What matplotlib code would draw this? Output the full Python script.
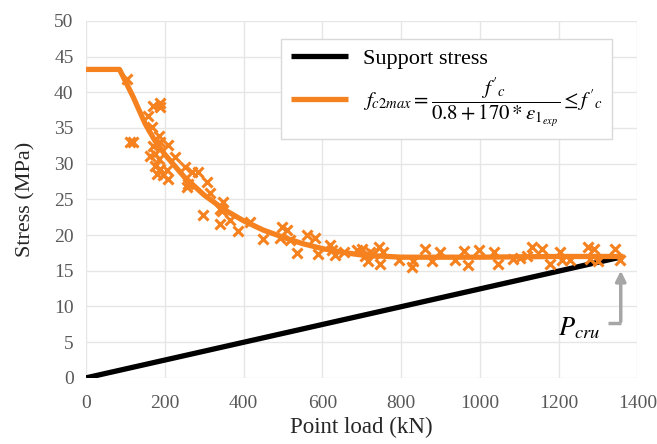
import matplotlib
matplotlib.use("Agg")
import matplotlib.pyplot as plt

plt.rcParams['font.family'] = ['Liberation Serif', 'DejaVu Serif']
plt.rcParams['mathtext.fontset'] = 'stix'

# support stress line (kN, MPa)
sup_load = [0, 1365]
sup_stress = [0, 17.0]

# f_c2max curve
crv_load = [0, 85, 120, 150, 175, 200, 250, 300, 350, 400, 450, 500, 550,
            600, 650, 700, 800, 1000, 1200, 1365]
crv_stress = [43.2, 43.2, 39.3, 35.6, 33.2, 31.3, 28.1, 25.6, 23.6, 22.0,
              20.7, 19.7, 18.8, 18.1, 17.6, 17.2, 16.9, 16.9, 17.0, 17.0]

# experimental points
exp_load = [103, 112, 120, 158, 171, 188, 188, 167, 184, 171, 188, 209, 163, 175,
            184, 226, 175, 188, 180, 196, 209, 205, 251, 268, 285, 260, 306,
            256, 315, 349, 340, 344, 298, 340, 366, 387, 417, 450, 497, 510,
            493, 518, 535, 560, 582, 590, 620, 624, 633, 654, 688, 700, 709,
            717, 730, 743, 747, 755, 722, 794, 827, 831, 861, 878, 899, 938,
            959, 971, 997, 1035, 1047, 1085, 1103, 1120, 1132, 1158, 1179,
            1204, 1209, 1230, 1276, 1289, 1280, 1301, 1344, 1357]
exp_stress = [41.8, 33.1, 33.1, 36.7, 38.1, 38.5, 37.9, 35.1, 33.9, 32.5, 33.0,
              32.6, 31.1, 31.4, 30.7, 31.0, 29.7, 29.3, 28.6, 28.4, 27.9, 29.1,
              29.5, 28.9, 28.9, 27.2, 27.5, 26.7, 25.9, 24.6, 23.7, 23.3, 22.8,
              21.6, 22.1, 20.5, 21.8, 19.4, 21.1, 20.7, 19.6, 19.3, 17.5, 20.0,
              19.6, 17.4, 18.6, 17.9, 17.2, 17.6, 17.9, 18.1, 17.0, 16.3, 17.4,
              18.3, 16.0, 17.6, 17.6, 16.5, 15.5, 16.3, 18.1, 16.3, 17.6, 16.5,
              17.7, 15.8, 17.9, 17.6, 16.0, 16.7, 16.8, 17.0, 18.3, 18.1, 16.0,
              17.6, 16.5, 16.5, 18.3, 18.0, 16.7, 16.3, 18.1, 16.5]

orng = '#F5811F'

fig = plt.figure(figsize=(6.57, 4.44), dpi=100)
ax = fig.add_axes([0.131, 0.149, 0.839, 0.804])

ax.plot(sup_load, sup_stress, color='black', lw=3.8, solid_capstyle='butt',
        label='Support stress', zorder=3)
ax.plot(crv_load, crv_stress, color=orng, lw=3.8, solid_capstyle='butt',
        label=r"$f_{c2max} = \dfrac{f^{\prime}{}_{c}}{0.8 + 170 * \varepsilon_{1_{exp}}} \leq f^{\prime}{}_{c}$",
        zorder=4)
ax.plot(exp_load, exp_stress, ls='none', marker='x', ms=6.5, mew=2.2,
        color=orng, zorder=5)

# P_cru annotation
ax.plot([1325, 1358], [7.7, 7.7], color='#A6A6A6', lw=2.5, solid_capstyle='butt')
ax.annotate('', xy=(1358, 15.4), xytext=(1358, 7.5),
            arrowprops=dict(arrowstyle='-|>,head_width=0.3,head_length=0.6',
                            color='#A6A6A6', lw=2.5))
ax.text(1252, 7.0, r'$P_{cru}$', fontsize=19, ha='center', va='center')

ax.set_xlim(0, 1400)
ax.set_ylim(0, 50)
ax.set_xticks(range(0, 1401, 200))
ax.set_yticks(range(0, 51, 5))
ax.grid(True, color='#E6E6E6', lw=1)
ax.set_axisbelow(True)
for s in ax.spines.values():
    s.set_visible(False)
ax.tick_params(length=0, labelsize=14, labelcolor='#595959')
ax.tick_params(axis='x', pad=12)
ax.tick_params(axis='y', pad=9)
ax.set_xlabel('Point load (kN)', fontsize=16.5, color='#262626', labelpad=4)
ax.set_ylabel('Stress (MPa)', fontsize=16, color='#262626', labelpad=13)

leg = ax.legend(loc='upper right', bbox_to_anchor=(0.955, 0.95), fontsize=16,
                handlelength=2.6, handletextpad=0.65, fancybox=False,
                framealpha=1, edgecolor='#D9D9D9', borderpad=0.45,
                labelspacing=0.3, borderaxespad=0)
leg.get_frame().set_linewidth(1)
leg.get_texts()[1].set_fontsize(15)

fig.savefig('out.png', dpi=100)
